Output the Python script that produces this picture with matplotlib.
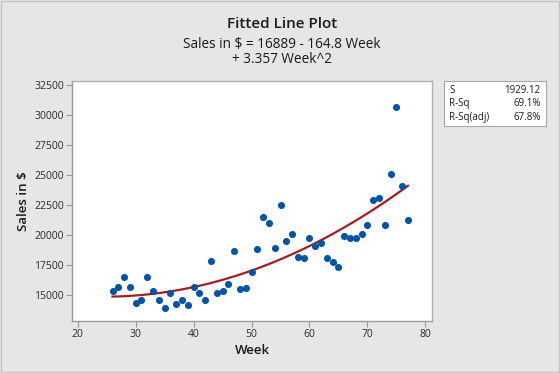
import numpy as np
import matplotlib
matplotlib.use("Agg")
import matplotlib.pyplot as plt
from matplotlib.patches import Rectangle

plt.rcParams['font.family'] = ['Open Sans', 'DejaVu Sans']

# weekly sales
weeks = list(range(26, 78))
sales = [15360, 15690, 16500, 15690, 14310, 14560, 16500, 15360, 14560, 13890,
         15140, 14230, 14560, 14140, 15690, 15140, 14560, 17860, 15140, 15360,
         15920, 18670, 15530, 15610, 16890, 18830, 21530, 21030, 18920, 22480,
         19480, 20060, 18190, 18110, 19730, 19080, 19330, 18110, 17730, 17310,
         19890, 19730, 19730, 20060, 20860, 22890, 23060, 20860, 25060, 30670,
         24080, 21250]

# fitted quadratic from the title
coef = [16889, -164.8, 3.357]
stats_names = ["S", "R-Sq", "R-Sq(adj)"]
stats_vals = ["1929.12", "69.1%", "67.8%"]

xticks = [20, 30, 40, 50, 60, 70, 80]
yticks = [15000, 17500, 20000, 22500, 25000, 27500, 30000, 32500]

bg = "#e6e6e6"
fig = plt.figure(figsize=(5.6, 3.73), dpi=100, facecolor=bg)

# outer frame
fig.patches.append(Rectangle((0.002, 0.003), 0.996, 0.994, transform=fig.transFigure,
                             fill=False, edgecolor="#c4c4c4", lw=1))

ax = fig.add_axes([0.129, 0.140, 0.643, 0.643])
ax.set_facecolor("white")

wk = np.array(weeks)
fit = coef[0] + coef[1] * wk + coef[2] * wk ** 2
ax.plot(wk, fit, color="#a51d23", lw=1.6, zorder=2)
ax.scatter(weeks, sales, s=26, color="#0054a6", zorder=3, linewidths=0)

ax.set_xlim(19.05, 81.2)
ax.set_ylim(12860, 32830)
ax.set_xticks(xticks)
ax.set_yticks(yticks)
ax.tick_params(direction="out", length=4, color="#9a9a9a", labelsize=7.5,
               labelcolor="#2a2a2a", pad=2)
for s in ax.spines.values():
    s.set_color("#b0b0b0")
    s.set_linewidth(1)
ax.spines["left"].set_color("#9a9a9a")
ax.spines["bottom"].set_color("#9a9a9a")

ax.set_xlabel("Week", fontsize=9.5, fontweight="semibold", color="#1a1a1a", labelpad=3)
ax.set_ylabel(r"Sales in \$", fontsize=9.5, fontweight="semibold", color="#1a1a1a", labelpad=3)

fig.text(0.503, 0.935, "Fitted Line Plot", ha="center", va="center",
         fontsize=11, fontweight="semibold", color="#1a1a1a")
fig.text(0.503, 0.882, r"Sales in \$ = 16889 - 164.8 Week", ha="center", va="center",
         fontsize=9.8, color="#1a1a1a")
fig.text(0.503, 0.841, "+ 3.357 Week^2", ha="center", va="center",
         fontsize=9.8, color="#1a1a1a")

# statistics box
bx = fig.add_axes([0.7934, 0.6622, 0.181, 0.1206])
bx.set_xticks([])
bx.set_yticks([])
bx.set_facecolor("white")
for s in bx.spines.values():
    s.set_color("#a8a8a8")
for i, (n, v) in enumerate(zip(stats_names, stats_vals)):
    yy = 0.8 - i * 0.3
    bx.text(0.05, yy, n, ha="left", va="center", fontsize=7, color="#1a1a1a",
            transform=bx.transAxes)
    bx.text(0.95, yy, v, ha="right", va="center", fontsize=7, color="#1a1a1a",
            transform=bx.transAxes)

fig.savefig("out.png", dpi=100, facecolor=bg)
